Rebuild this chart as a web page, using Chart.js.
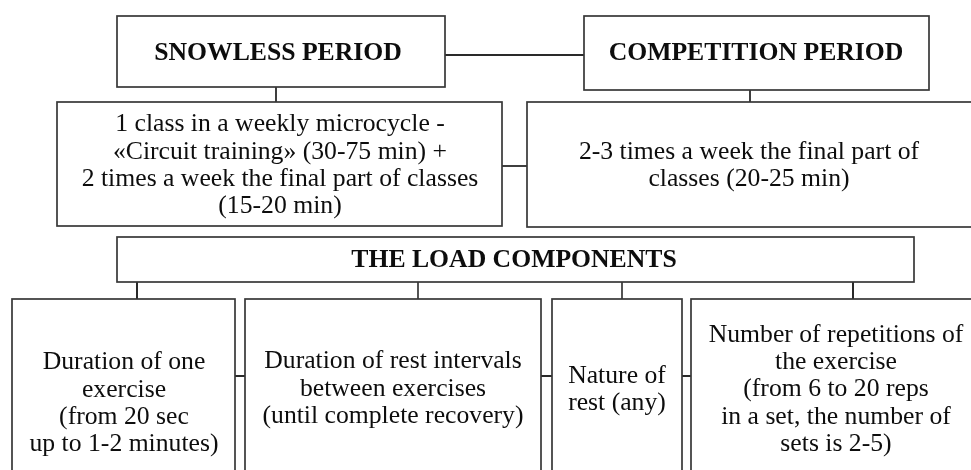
<!DOCTYPE html>
<html><head><meta charset="utf-8">
<script src="https://cdn.jsdelivr.net/npm/chart.js@4/dist/chart.umd.min.js"></script>
<style>html,body{margin:0;padding:0;background:#fff;overflow:hidden}#wrap{width:971px;height:470px}</style>
</head><body><div id="wrap"><canvas id="c" width="971" height="470"></canvas></div>
<script>
// ---- content ----
const nodeIds = ['snowless','competition','snowlessPlan','competitionPlan','load','duration','restIntervals','restNature','repetitions'];
const nodeTexts = [
  ['SNOWLESS PERIOD'],
  ['COMPETITION PERIOD'],
  ['1 class in a weekly microcycle -','«Circuit training» (30-75 min) +','2 times a week the final part of classes','(15-20 min)'],
  ['2-3 times a week the final part of','classes (20-25 min)'],
  ['THE LOAD COMPONENTS'],
  ['Duration of one','exercise','(from 20 sec','up to 1-2 minutes)'],
  ['Duration of rest intervals','between exercises','(until complete recovery)'],
  ['Nature of','rest (any)'],
  ['Number of repetitions of','the exercise','(from 6 to 20 reps','in a set, the number of','sets is 2-5)']
];
const nodeBold = [true,true,false,false,true,false,false,false,false];
const links = [
  ['snowless','competition'],
  ['snowless','snowlessPlan'],
  ['competition','competitionPlan'],
  ['snowlessPlan','competitionPlan'],
  ['load','duration'],['load','restIntervals'],['load','restNature'],['load','repetitions'],
  ['duration','restIntervals'],['restIntervals','restNature'],['restNature','repetitions']
];

// ---- layout (diagram units on the chart's linear scales) ----
const boxLayout = {
  snowless:        {x0:117, x1:445, y0:16,  y1:87,  tx:278, ty:52},
  competition:     {x0:584, x1:929, y0:16,  y1:90,  tx:756, ty:52},
  snowlessPlan:    {x0:57,  x1:502, y0:102, y1:226, tx:280, ty:164.5},
  competitionPlan: {x0:527, x1:985, y0:102, y1:227, tx:749, ty:164.5},
  load:            {x0:117, x1:914, y0:237, y1:282, tx:514, ty:259.5},
  duration:        {x0:12,  x1:235, y0:299, y1:480, tx:124, ty:402.5},
  restIntervals:   {x0:245, x1:541, y0:299, y1:480, tx:393, ty:388},
  restNature:      {x0:552, x1:682, y0:299, y1:480, tx:617, ty:388.5},
  repetitions:     {x0:691, x1:985, y0:299, y1:480, tx:836, ty:388.5}
};
const linkLayout = [
  {type:'h', y:55,  w:2},
  {type:'v', x:276, w:1.8},
  {type:'v', x:750, w:1.8},
  {type:'h', y:166, w:1.8},
  {type:'v', x:137, w:2},
  {type:'v', x:418, w:1.6},
  {type:'v', x:622, w:1.6},
  {type:'v', x:853, w:2},
  {type:'h', y:376, w:2},
  {type:'h', y:376, w:2},
  {type:'h', y:376, w:2}
];
const LINE_H = 27.3;
const FONT_SIZE = 25.7;

const diagramPlugin = {
  id: 'diagram',
  afterDatasetsDraw(chart) {
    const ctx = chart.ctx, xs = chart.scales.x, ys = chart.scales.y;
    const X = v => xs.getPixelForValue(v), Y = v => ys.getPixelForValue(v);
    ctx.save();
    // connectors
    ctx.strokeStyle = '#2a2a2a';
    links.forEach((lk, i) => {
      const a = boxLayout[lk[0]], b = boxLayout[lk[1]], L = linkLayout[i];
      ctx.lineWidth = L.w;
      ctx.beginPath();
      if (L.type === 'h') {
        ctx.moveTo(X(a.x1), Y(L.y)); ctx.lineTo(X(b.x0), Y(L.y));
      } else {
        ctx.moveTo(X(L.x), Y(a.y1)); ctx.lineTo(X(L.x), Y(b.y0));
      }
      ctx.stroke();
    });
    // boxes
    ctx.strokeStyle = '#383838';
    ctx.lineWidth = 1.7;
    nodeIds.forEach(id => {
      const b = boxLayout[id];
      ctx.strokeRect(X(b.x0), Y(b.y0), X(b.x1) - X(b.x0), Y(b.y1) - Y(b.y0));
    });
    // texts
    ctx.fillStyle = '#0d0d0d';
    ctx.textAlign = 'center';
    ctx.textBaseline = 'middle';
    nodeIds.forEach((id, i) => {
      const b = boxLayout[id], lines = nodeTexts[i];
      ctx.font = (nodeBold[i] ? 'bold ' : '') + FONT_SIZE + 'px "Liberation Serif", "Times New Roman", serif';
      const start = b.ty - (lines.length - 1) * LINE_H / 2;
      lines.forEach((t, k) => ctx.fillText(t, X(b.tx), Y(start + k * LINE_H) + 1));
    });
    ctx.restore();
  }
};

new Chart(document.getElementById('c'), {
  type: 'scatter',
  data: {
    datasets: [{
      data: nodeIds.map(id => ({x: boxLayout[id].tx, y: boxLayout[id].ty})),
      pointRadius: 0, pointHoverRadius: 0
    }]
  },
  options: {
    responsive: false, animation: false, events: [],
    layout: {padding: 0},
    plugins: {legend: {display: false}, tooltip: {enabled: false}},
    scales: {
      x: {type: 'linear', min: 0, max: 971, display: false},
      y: {type: 'linear', min: 0, max: 470, reverse: true, display: false}
    }
  },
  plugins: [diagramPlugin]
});
</script>
</body></html>
